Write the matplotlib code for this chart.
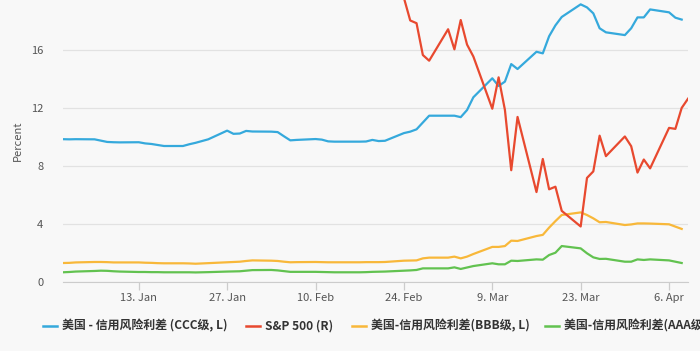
import numpy as np
import pandas as pd
import matplotlib
matplotlib.use('Agg')
import matplotlib.pyplot as plt
import matplotlib.dates as mdates
from matplotlib.lines import Line2D

plt.rcParams['font.family'] = ['Noto Sans CJK SC', 'DejaVu Sans']

# Dates: spreads on weekdays Jan 1 - Apr 8, S&P on trading days Jan 2 - Apr 9
spread_dates = pd.bdate_range('2020-01-01', '2020-04-08')
spx_dates = pd.bdate_range('2020-01-02', '2020-04-09').drop(pd.to_datetime(['2020-01-20', '2020-02-17']))

ccc = [9.85, 9.84, 9.85, 9.84, 9.75, 9.66, 9.64, 9.63, 9.64, 9.56, 9.52, 9.45, 9.38, 9.38, 9.50, 9.60, 9.72, 9.84, 10.44, 10.22, 10.24, 10.42, 10.38,
       10.37, 10.34, 10.05, 9.77, 9.80, 9.86, 9.82, 9.70, 9.68, 9.68, 9.68, 9.69, 9.80, 9.72, 9.74, 10.27, 10.37, 10.53, 11.00, 11.47,
       11.47, 11.47, 11.37, 11.86, 12.74, 14.05, 13.52, 13.82, 15.03, 14.69, 15.88, 15.77, 16.95, 17.70, 18.28, 19.15, 18.94, 18.53, 17.50, 17.22, 17.03, 17.50,
       18.25, 18.25, 18.80, 18.60, 18.23, 18.10]
bbb = [1.31, 1.32, 1.35, 1.38, 1.38, 1.37, 1.35, 1.35, 1.35, 1.33, 1.32, 1.30, 1.29, 1.29, 1.28, 1.26, 1.28, 1.30, 1.36, 1.38, 1.40, 1.45, 1.49,
       1.47, 1.45, 1.40, 1.36, 1.37, 1.38, 1.37, 1.36, 1.36, 1.36, 1.36, 1.37, 1.37, 1.37, 1.38, 1.47, 1.48, 1.49, 1.63, 1.68,
       1.68, 1.75, 1.63, 1.75, 1.93, 2.42, 2.42, 2.48, 2.85, 2.83, 3.17, 3.25, 3.75, 4.20, 4.62, 4.80, 4.62, 4.39, 4.12, 4.14, 3.93, 3.97,
       4.04, 4.04, 4.03, 3.98, 3.82, 3.66]
aaa = [0.67, 0.69, 0.72, 0.76, 0.78, 0.77, 0.74, 0.72, 0.69, 0.69, 0.68, 0.68, 0.67, 0.67, 0.67, 0.66, 0.67, 0.68, 0.72, 0.73, 0.74, 0.78, 0.82,
       0.83, 0.80, 0.75, 0.70, 0.70, 0.70, 0.69, 0.68, 0.67, 0.67, 0.67, 0.68, 0.70, 0.71, 0.72, 0.78, 0.80, 0.83, 0.94, 0.94,
       0.94, 1.01, 0.90, 1.00, 1.10, 1.29, 1.22, 1.22, 1.47, 1.45, 1.56, 1.54, 1.86, 2.02, 2.48, 2.32, 1.98, 1.70, 1.59, 1.60, 1.40, 1.40,
       1.56, 1.52, 1.56, 1.49, 1.40, 1.31]
spx = [3257.85, 3234.85, 3246.28, 3237.18, 3253.05, 3274.70, 3265.35, 3288.13, 3283.15, 3289.29, 3316.81, 3329.62, 3320.79, 3321.75, 3325.54, 3295.47,
       3243.63, 3276.24, 3273.40, 3283.66, 3225.52,
       3248.92, 3297.59, 3334.69, 3345.78, 3327.71, 3352.09, 3357.75, 3379.45, 3373.94, 3380.16, 3370.29, 3386.15, 3373.23, 3337.75,
       3225.89, 3128.21, 3116.39, 2978.76, 2954.22,
       3090.23, 3003.37, 3130.12, 3023.94, 2972.37, 2746.56, 2882.23, 2741.38, 2480.64, 2711.02, 2386.13, 2529.19, 2398.10, 2409.39, 2304.92,
       2237.40, 2447.33, 2475.56, 2630.07, 2541.47, 2626.65, 2584.59,
       2470.50, 2526.90, 2488.65, 2663.68, 2659.41, 2749.98, 2789.82]

names = ['美国 - 信用风险利差 (CCC级, L)', 'S&P 500 (R)', '美国-信用风险利差(BBB级, L)', '美国-信用风险利差(AAA级, L)']
colors = ['#35a9dc', '#e8492f', '#f8b83a', '#62c250']
tick_dates = pd.to_datetime(['2020-01-13', '2020-01-27', '2020-02-10', '2020-02-24', '2020-03-09', '2020-03-23', '2020-04-06'])

bg = '#f8f8f8'
fig = plt.figure(figsize=(7, 3.51), dpi=100, facecolor=bg)
ax = fig.add_axes([63 / 700, 1 - 282 / 351, 625 / 700, 282 / 351])
ax.set_facecolor(bg)
ax2 = ax.twinx()

ax.plot(spread_dates, ccc, color=colors[0], lw=1.6, zorder=3)
ax.plot(spread_dates, bbb, color=colors[2], lw=1.6, zorder=3)
ax.plot(spread_dates, aaa, color=colors[3], lw=1.6, zorder=3)
ax2.plot(spx_dates, spx, color=colors[1], lw=1.6, zorder=3)

ax.set_ylim(0, 19.45)
ax2.set_ylim(1997.3, 3216.7)
ax.set_xlim(pd.Timestamp('2020-01-01'), pd.Timestamp('2020-04-09'))

ax.set_yticks([0, 4, 8, 12, 16])
ax.grid(axis='y', color='#e2e2e2', lw=0.9)
ax.set_axisbelow(True)
ax.set_xticks(tick_dates)
ax.xaxis.set_major_formatter(mdates.DateFormatter('%-d. %b'))
ax.tick_params(axis='x', length=6, color='#cccccc', width=0.9, labelsize=8, labelcolor='#555555', pad=2)
ax.tick_params(axis='y', length=0, labelsize=8, labelcolor='#555555', pad=14)
ax.set_ylabel('Percent', fontsize=8, color='#555555')
ax.yaxis.set_label_coords(-40 / 625, 0.5)

for a in (ax, ax2):
    for s in ['top', 'right', 'left']:
        a.spines[s].set_visible(False)
ax2.spines['bottom'].set_visible(False)
ax.spines['bottom'].set_color('#cccccc')
ax2.set_yticks([])

# legend row along the bottom, clipped at the right edge like the original
leg_x = [43, 246, 352, 545]
for x0, name, c in zip(leg_x, names, colors):
    fig.add_artist(Line2D([x0 / 700, (x0 + 14) / 700], [1 - 326 / 351] * 2, color=c, lw=1.8))
    fig.text((x0 + 19) / 700, 1 - 326 / 351, name, fontsize=8.6, fontweight='bold', color='#333333',
             va='center', ha='left')

fig.savefig('out.png', dpi=100, facecolor=bg)
